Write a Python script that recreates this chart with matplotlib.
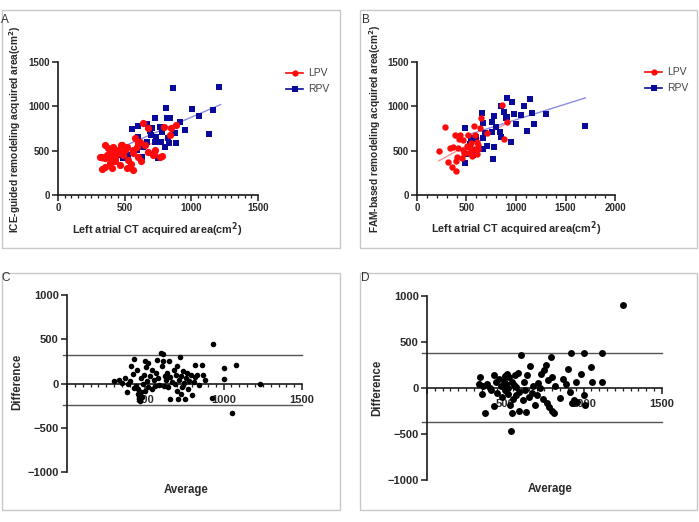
import matplotlib
matplotlib.use("Agg")
import matplotlib.pyplot as plt
from matplotlib.patches import Rectangle
from matplotlib.lines import Line2D
from matplotlib.ticker import MultipleLocator

plt.rcParams['font.family'] = ['Liberation Sans', 'DejaVu Sans']

# ---------------- Panel A data ----------------
a_lpv_x = [640, 677, 797, 848, 885, 840, 578, 615, 653, 590, 565, 515, 478, 353, 377, 415, 452, 403, 365, 328,
           428, 490, 527, 390, 465, 353, 515, 565, 328, 403, 677, 715, 765, 728, 428, 470, 400, 560, 600, 380,
           500, 720, 620, 550, 430, 460, 350, 780, 600, 312]
a_lpv_y = [816, 759, 770, 759, 790, 677, 640, 601, 564, 545, 508, 545, 564, 564, 527, 545, 508, 470, 451, 432,
           414, 451, 395, 358, 338, 319, 301, 282, 290, 300, 488, 451, 432, 508, 488, 560, 500, 470, 430, 430,
           510, 470, 380, 350, 380, 470, 420, 440, 590, 433]
a_rpv_x = [860, 1208, 810, 1007, 1165, 1058, 915, 1135, 730, 815, 840, 953, 553, 598, 665, 703, 765, 698, 735, 778,
           827, 885, 833, 773, 728, 665, 602, 640, 590, 527, 628, 752, 490, 440, 803, 880, 690]
a_rpv_y = [1204, 1222, 985, 967, 959, 891, 827, 685, 865, 865, 865, 733, 741, 782, 797, 752, 770, 677, 658, 714,
           640, 583, 583, 601, 601, 601, 658, 545, 508, 451, 432, 414, 414, 451, 545, 700, 720]
a_lpv_fit_x = [330, 890]
a_lpv_fit_y = [380, 680]
a_rpv_fit_x = [440, 1220]
a_rpv_fit_y = [515, 1020]

# ---------------- Panel B data ----------------
b_lpv_x = [283, 855, 643, 636, 579, 704, 912, 879, 384, 434, 424, 468, 518, 542, 603, 333, 417, 468, 502, 552,
           619, 222, 317, 401, 391, 350, 394, 528, 552, 603, 478, 586, 450, 520, 580, 620, 360]
b_lpv_y = [763, 1015, 865, 752, 782, 703, 820, 632, 677, 677, 632, 620, 677, 583, 601, 534, 527, 508, 556, 508,
           519, 496, 376, 432, 384, 312, 271, 470, 443, 459, 470, 677, 420, 540, 520, 560, 540]
b_rpv_x = [912, 956, 1141, 845, 1080, 880, 984, 1050, 1158, 1303, 1697, 653, 781, 900, 663, 754, 912, 1000, 1185,
           485, 797, 1114, 754, 838, 687, 598, 845, 542, 579, 670, 949, 711, 775, 670, 535, 507, 485, 764, 568]
b_rpv_y = [1091, 1046, 1083, 1007, 1007, 940, 910, 902, 921, 910, 782, 921, 894, 872, 816, 827, 883, 797, 797,
           752, 770, 722, 714, 714, 696, 658, 658, 640, 628, 640, 601, 556, 545, 515, 572, 459, 357, 406, 451]
b_lpv_fit_x = [220, 910]
b_lpv_fit_y = [385, 810]
b_rpv_fit_x = [490, 1700]
b_rpv_fit_y = [670, 1095]

# ---------------- Panel C data (Bland-Altman) ----------------
c_avg = [300, 330, 350, 370, 380, 390, 400, 410, 420, 425, 430, 440, 445, 450, 455, 460, 465, 470, 475, 480,
         485, 490, 495, 500, 505, 510, 515, 520, 530, 540, 545, 555, 560, 570, 575, 580, 590, 600, 605, 610,
         615, 620, 625, 630, 640, 645, 650, 655, 660, 670, 680, 690, 695, 700, 705, 710, 715, 720, 725, 730,
         735, 740, 745, 750, 760, 765, 770, 780, 790, 800, 810, 815, 820, 830, 840, 860, 870, 880, 925, 930,
         1000, 1005, 1055, 1080, 1230]
c_diff = [30, 40, 10, 60, -100, -10, 30, 200, 110, 280, -50, -30, 150, -120, -60, -170, -200, -100, 60, -150,
          0, 100, 250, -80, 190, 30, 230, -40, 90, -60, 150, 40, -30, 120, 270, 60, -20, 350, 200, 330,
          250, -30, 90, 40, 120, -40, 250, -180, 70, 20, 150, -10, 100, -80, 200, -170, 40, 300, -120, 90,
          -40, 140, 10, -180, 60, 120, -60, 30, 100, -130, 20, 210, 70, 100, -20, 210, 100, 40, -165, 450,
          170, 55, -335, 210, -10]
c_limits = [320, -240]

# ---------------- Panel D data (Bland-Altman) ----------------
d_avg = [330, 340, 350, 360, 370, 380, 400, 410, 425, 430, 440, 450, 460, 470, 480, 490, 495, 500, 505, 510,
         515, 520, 525, 530, 535, 540, 545, 550, 555, 560, 565, 570, 580, 585, 590, 600, 610, 620, 625, 630,
         640, 650, 660, 670, 675, 690, 700, 710, 720, 730, 740, 750, 760, 765, 770, 780, 790, 795, 800, 810,
         820, 850, 870, 890, 900, 910, 920, 925, 940, 950, 960, 985, 1000, 1005, 1010, 1050, 1055, 1120, 1120,
         1250]
d_diff = [40, 120, -60, 20, -270, 40, 0, -20, 140, -200, 60, -50, 100, 20, -100, 80, 130, -20, 40, 150,
          -60, 0, 120, -180, -470, -270, 70, -120, 30, 140, -80, 10, 160, -250, -40, 360, -130, 60, -20, -260,
          140, -100, 240, -50, 20, -190, -80, 50, 0, 150, -120, 200, 250, -160, 90, -210, 340, -250, 120, -270,
          20, -110, 100, 40, 210, -40, 380, -160, -130, 70, -150, 150, 380, -80, -180, 230, 60, 380, 60,
          900]
d_limits = [380, -370]

W, H = 699, 522
fig = plt.figure(figsize=(W / 100, H / 100), dpi=100)

def fx(px):
    return px / W

def fy(py):
    return 1 - py / H

def add_axes_px(x0, x1, y_top, y_bot):
    return fig.add_axes([fx(x0), fy(y_bot), (x1 - x0) / W, (y_bot - y_top) / H])

# panel borders
for (x0, y0, x1, y1) in [(2, 10, 340, 248), (360, 10, 697, 248), (2, 273, 340, 510), (360, 273, 697, 510)]:
    fig.add_artist(Rectangle((fx(x0), fy(y1)), (x1 - x0) / W, (y1 - y0) / H, transform=fig.transFigure,
                             fill=False, edgecolor='#c8c8c8', linewidth=1.0))

TXT = '#2a2a2a'
RED = '#ff0a0a'
BLUE = '#0a0a9a'


def style_axes(ax, tick_fs, xminor):
    for s in ['top', 'right']:
        ax.spines[s].set_visible(False)
    for s in ['left', 'bottom']:
        ax.spines[s].set_linewidth(1.2)
        ax.spines[s].set_color('#1a1a1a')
    ax.xaxis.set_minor_locator(MultipleLocator(xminor))
    ax.tick_params(axis='both', which='major', direction='out', length=4, width=1.1, color='#1a1a1a',
                   labelsize=tick_fs, labelcolor=TXT, pad=2)
    ax.tick_params(axis='x', which='minor', direction='out', length=2.2, width=0.9, color='#1a1a1a')
    ax.tick_params(axis='y', which='minor', length=0)
    for lab in ax.get_xticklabels() + ax.get_yticklabels():
        lab.set_fontweight('bold')
    ax.patch.set_alpha(0)


# ---------- Panel A ----------
axA = add_axes_px(58, 258, 62, 195)
axA.set_xlim(0, 1500)
axA.set_ylim(0, 1500)
axA.set_xticks([0, 500, 1000, 1500])
axA.set_yticks([0, 500, 1000, 1500])
axA.plot(a_rpv_fit_x, a_rpv_fit_y, color='#8c8ce6', lw=1.0, zorder=2)
axA.plot(a_lpv_fit_x, a_lpv_fit_y, color='#ff9090', lw=1.0, zorder=2)
axA.plot(a_rpv_x, a_rpv_y, 's', color=BLUE, ms=4.9, mew=0, zorder=3, clip_on=False)
axA.plot(a_lpv_x, a_lpv_y, 'o', color=RED, ms=5.2, mew=0, zorder=4, clip_on=False)
style_axes(axA, 7, 50)

# ---------- Panel B ----------
axB = add_axes_px(417, 615, 62, 195)
axB.set_xlim(0, 2000)
axB.set_ylim(0, 1500)
axB.set_xticks([0, 500, 1000, 1500, 2000])
axB.set_yticks([0, 500, 1000, 1500])
axB.plot(b_rpv_fit_x, b_rpv_fit_y, color='#8c8ce6', lw=1.0, zorder=2)
axB.plot(b_lpv_fit_x, b_lpv_fit_y, color='#ff9090', lw=1.0, zorder=2)
axB.plot(b_rpv_x, b_rpv_y, 's', color=BLUE, ms=4.3, mew=0, zorder=3, clip_on=False)
axB.plot(b_lpv_x, b_lpv_y, 'o', color=RED, ms=4.6, mew=0, zorder=4, clip_on=False)
style_axes(axB, 7, 100)

# legends
for ax, lx, ly in [(axA, 281, 63), (axB, 640, 62)]:
    handles = [Line2D([0], [0], color=RED, marker='o', ms=4.5, lw=1.2, mew=0),
               Line2D([0], [0], color=BLUE, marker='s', ms=4.2, lw=1.2, mew=0)]
    fig.legend(handles, ['LPV', 'RPV'], loc='upper left', bbox_to_anchor=(fx(lx), fy(ly)),
               frameon=False, fontsize=7.5, handlelength=1.6, handletextpad=0.5, labelspacing=0.6,
               borderpad=0, labelcolor='#444444')

# axis labels A, B
fig.text(fx(157), fy(230), 'Left atrial CT acquired area(cm$^\\mathbf{2}$)', ha='center', va='center',
         fontsize=7.8, fontweight='bold', color=TXT)
fig.text(fx(15), fy(129), 'ICE-guided remodeling acquired area(cm$^\\mathbf{2}$)', ha='center', va='center',
         rotation=90, fontsize=7.3, fontweight='bold', color=TXT)
fig.text(fx(516), fy(229), 'Left atrial CT acquired area(cm$^\\mathbf{2}$)', ha='center', va='center',
         fontsize=7.8, fontweight='bold', color=TXT)
fig.text(fx(375), fy(129), 'FAM-based remodeling acquired area(cm$^\\mathbf{2}$)', ha='center', va='center',
         rotation=90, fontsize=7.3, fontweight='bold', color=TXT)

# ---------- Panel C ----------
axC = add_axes_px(67, 302, 295, 472)
axC.set_xlim(0, 1500)
axC.set_ylim(-1000, 1000)
axC.spines['bottom'].set_position(('data', 0))
axC.set_xticks([0, 500, 1000, 1500])
axC.set_xticklabels(['', '500', '1000', '1500'])
axC.set_yticks([-1000, -500, 0, 500, 1000])
for lim in c_limits:
    axC.plot([-25, 1500], [lim, lim], color='#555555', lw=1.0, clip_on=False, zorder=1)
axC.plot(c_avg, c_diff, 'o', color='black', ms=4.0, mew=0, zorder=3, clip_on=False)
style_axes(axC, 8, 50)
axC.tick_params(axis='x', which='major', pad=4)

# ---------- Panel D ----------
axD = add_axes_px(427, 662, 296, 480)
axD.set_xlim(0, 1500)
axD.set_ylim(-1000, 1000)
axD.spines['bottom'].set_position(('data', 0))
axD.set_xticks([0, 500, 1000, 1500])
axD.set_xticklabels(['', '500', '1000', '1500'])
axD.set_yticks([-1000, -500, 0, 500, 1000])
for lim in d_limits:
    axD.plot([-34, 1500], [lim, lim], color='#555555', lw=1.0, clip_on=False, zorder=1)
axD.plot(d_avg, d_diff, 'o', color='black', ms=5.0, mew=0, zorder=3, clip_on=False)
style_axes(axD, 8, 50)
axD.tick_params(axis='x', which='major', pad=4)

fig.text(fx(17), fy(382), 'Difference', rotation=90, ha='center', va='center', fontsize=8.3,
         fontweight='bold', color=TXT)
fig.text(fx(186), fy(490), 'Average', ha='center', va='center', fontsize=8.3, fontweight='bold', color=TXT)
fig.text(fx(377), fy(388), 'Difference', rotation=90, ha='center', va='center', fontsize=8.3,
         fontweight='bold', color=TXT)
fig.text(fx(550), fy(489), 'Average', ha='center', va='center', fontsize=8.3, fontweight='bold', color=TXT)

# panel letters
for letter, px, py in [('A', 1, 20), ('B', 362, 20), ('C', 1, 278), ('D', 361, 278)]:
    fig.text(fx(px), fy(py), letter, ha='left', va='center', fontsize=8.5, color='#333333')

fig.savefig('out.png', dpi=100)
